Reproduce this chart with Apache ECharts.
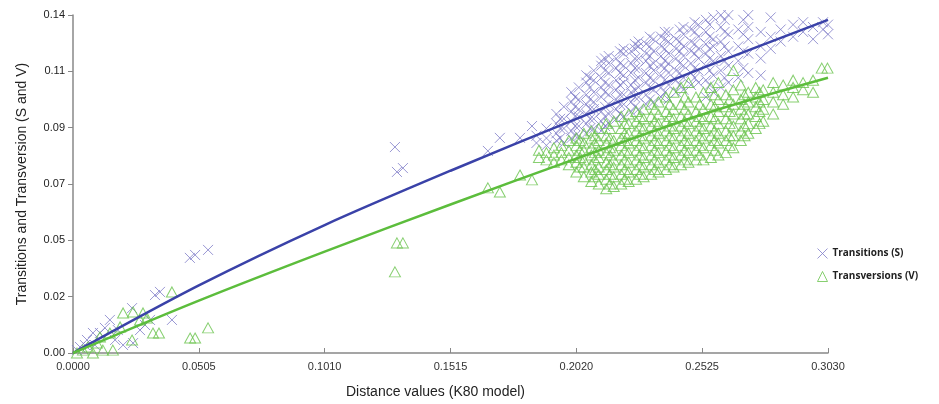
<!DOCTYPE html>
<html>
<head>
<meta charset="utf-8">
<title>Transitions and Transversions vs K80 distance</title>
<script src="https://cdn.jsdelivr.net/npm/echarts@6/dist/echarts.min.js"></script>
<style>
  html, body { margin: 0; padding: 0; background: #fff; }
  #chart { width: 939px; height: 404px; }
</style>
</head>
<body>
<div id="chart"></div>
<script>
  // tick labels as printed on the original
  const xTicks = ['0.0000', '0.0505', '0.1010', '0.1515', '0.2020', '0.2525', '0.3030'];
  const yTicks = ['0.00', '0.02', '0.05', '0.07', '0.09', '0.11', '0.14'];

  // Transitions (S): scattered points [x, y]
  const sSparse = [
    [0.0016, 0.0012], [0.0028, 0.0025], [0.0048, 0.0033], [0.0056, 0.0054], [0.008, 0.0083],
    [0.0088, 0.0033], [0.0108, 0.0083], [0.0128, 0.0104], [0.0148, 0.0137], [0.0169, 0.0054],
    [0.018, 0.0095], [0.0201, 0.0033], [0.0241, 0.0041], [0.0237, 0.0186], [0.0269, 0.0095],
    [0.0289, 0.0116], [0.0309, 0.0137], [0.0397, 0.0137], [0.0329, 0.024], [0.0349, 0.0253],
    [0.0469, 0.0394], [0.049, 0.0406], [0.0542, 0.0427],
    [0.1292, 0.0853], [0.130, 0.075], [0.1324, 0.0766],
    [0.1665, 0.0837], [0.1713, 0.0891], [0.1794, 0.0891], [0.1842, 0.094], [0.276, 0.115]
  ];
  // Transitions (S): dense cloud, one row per distance column [x, [y...]]
  const sCloud = [
    [0.186, [0.087, 0.090]],
    [0.190, [0.086, 0.089, 0.093]],
    [0.194, [0.088, 0.091, 0.095, 0.099]],
    [0.197, [0.087, 0.093, 0.097, 0.102]],
    [0.200, [0.089, 0.092, 0.096, 0.100, 0.104, 0.108]],
    [0.203, [0.090, 0.094, 0.098, 0.101, 0.105, 0.110]],
    [0.206, [0.091, 0.095, 0.099, 0.103, 0.107, 0.112, 0.115]],
    [0.209, [0.093, 0.097, 0.101, 0.104, 0.108, 0.113, 0.117]],
    [0.212, [0.092, 0.096, 0.100, 0.106, 0.110, 0.114, 0.119, 0.121]],
    [0.215, [0.095, 0.099, 0.103, 0.107, 0.111, 0.116, 0.120, 0.123]],
    [0.218, [0.097, 0.101, 0.105, 0.109, 0.113, 0.118, 0.122]],
    [0.221, [0.098, 0.103, 0.107, 0.112, 0.115, 0.119, 0.124, 0.126]],
    [0.224, [0.100, 0.104, 0.108, 0.111, 0.116, 0.120, 0.125]],
    [0.227, [0.101, 0.106, 0.110, 0.114, 0.118, 0.122, 0.127, 0.129]],
    [0.230, [0.103, 0.107, 0.112, 0.116, 0.121, 0.124, 0.128]],
    [0.233, [0.104, 0.109, 0.113, 0.117, 0.120, 0.125, 0.130]],
    [0.236, [0.106, 0.110, 0.115, 0.119, 0.123, 0.127, 0.131]],
    [0.239, [0.105, 0.111, 0.116, 0.120, 0.124, 0.129, 0.133]],
    [0.242, [0.108, 0.113, 0.117, 0.122, 0.126, 0.130]],
    [0.245, [0.109, 0.114, 0.119, 0.123, 0.127, 0.132, 0.135]],
    [0.248, [0.111, 0.116, 0.120, 0.125, 0.129, 0.134]],
    [0.251, [0.112, 0.117, 0.122, 0.126, 0.131, 0.136]],
    [0.254, [0.106, 0.113, 0.119, 0.124, 0.128, 0.133, 0.138]],
    [0.257, [0.108, 0.115, 0.121, 0.127, 0.130, 0.139]],
    [0.260, [0.110, 0.117, 0.123, 0.129, 0.135, 0.140]],
    [0.263, [0.112, 0.119, 0.125, 0.132, 0.140]],
    [0.267, [0.114, 0.121, 0.127, 0.134]],
    [0.271, [0.116, 0.124, 0.130, 0.135, 0.140]],
    [0.276, [0.122, 0.127, 0.133]],
    [0.280, [0.126, 0.131, 0.139]],
    [0.284, [0.129, 0.134]],
    [0.289, [0.131, 0.136]],
    [0.293, [0.133, 0.137]],
    [0.297, [0.130, 0.135]],
    [0.301, [0.134, 0.137]],
    [0.303, [0.132, 0.136]]
  ];
  // Transitions (S): extra points read between the columns of the dense core
  const sCore = [
    [0.1955, [0.089, 0.093, 0.097]],
    [0.2015, [0.090, 0.094, 0.098, 0.102, 0.106]],
    [0.2075, [0.093, 0.097, 0.101, 0.105, 0.110, 0.114]],
    [0.2135, [0.094, 0.098, 0.102, 0.108, 0.112, 0.117, 0.122]],
    [0.2195, [0.099, 0.103, 0.107, 0.111, 0.116, 0.120, 0.125]],
    [0.2255, [0.102, 0.106, 0.109, 0.113, 0.118, 0.122, 0.126, 0.128]],
    [0.2315, [0.105, 0.110, 0.114, 0.119, 0.123, 0.127, 0.131]],
    [0.2375, [0.108, 0.113, 0.118, 0.121, 0.126, 0.130, 0.133]],
    [0.2435, [0.111, 0.116, 0.120, 0.125, 0.129, 0.134]],
    [0.2495, [0.114, 0.118, 0.124, 0.128, 0.133, 0.137]],
    [0.2555, [0.111, 0.117, 0.122, 0.126, 0.131, 0.136]],
    [0.2615, [0.114, 0.121, 0.127, 0.133, 0.138]],
    [0.2690, [0.118, 0.125, 0.132, 0.138]]
  ];

  // Transversions (V): scattered points [x, y]
  const vSparse = [
    [0.0016, 0.0], [0.004, 0.0012], [0.006, 0.0025], [0.008, 0.0], [0.0096, 0.0041],
    [0.0108, 0.0066], [0.012, 0.0012], [0.0148, 0.0083], [0.016, 0.0012], [0.0189, 0.0108],
    [0.0201, 0.0166], [0.0237, 0.0054], [0.0241, 0.017], [0.0269, 0.0137], [0.0281, 0.0166],
    [0.0297, 0.0145], [0.0321, 0.0083], [0.0345, 0.0083], [0.0397, 0.0253],
    [0.047, 0.0062], [0.049, 0.0062], [0.0542, 0.0104],
    [0.1292, 0.0336], [0.130, 0.0456], [0.1324, 0.0456],
    [0.1665, 0.0684], [0.1713, 0.0667], [0.1794, 0.0737], [0.1842, 0.0717]
  ];
  // Transversions (V): dense cloud [x, [y...]]
  const vCloud = [
    [0.187, [0.081, 0.084]],
    [0.190, [0.080, 0.083]],
    [0.193, [0.079, 0.082, 0.085]],
    [0.196, [0.080, 0.083, 0.086]],
    [0.199, [0.078, 0.081, 0.084, 0.088]],
    [0.202, [0.075, 0.079, 0.082, 0.086, 0.089]],
    [0.205, [0.073, 0.077, 0.080, 0.084, 0.087, 0.091]],
    [0.208, [0.071, 0.075, 0.078, 0.082, 0.085, 0.089, 0.092]],
    [0.211, [0.070, 0.074, 0.077, 0.081, 0.084, 0.088, 0.093]],
    [0.214, [0.068, 0.072, 0.076, 0.079, 0.083, 0.087, 0.090, 0.095]],
    [0.217, [0.069, 0.073, 0.077, 0.080, 0.084, 0.088, 0.096]],
    [0.220, [0.070, 0.074, 0.078, 0.082, 0.086, 0.089, 0.093, 0.098]],
    [0.223, [0.071, 0.075, 0.079, 0.083, 0.087, 0.091, 0.095, 0.099]],
    [0.226, [0.072, 0.076, 0.080, 0.084, 0.088, 0.092, 0.096, 0.100]],
    [0.229, [0.073, 0.077, 0.081, 0.085, 0.089, 0.093, 0.097, 0.101]],
    [0.232, [0.074, 0.078, 0.082, 0.086, 0.090, 0.094, 0.098, 0.103]],
    [0.235, [0.075, 0.079, 0.083, 0.087, 0.091, 0.095, 0.099, 0.104]],
    [0.238, [0.076, 0.080, 0.084, 0.088, 0.092, 0.096, 0.100, 0.106]],
    [0.241, [0.077, 0.081, 0.085, 0.089, 0.093, 0.097, 0.101, 0.108]],
    [0.244, [0.078, 0.082, 0.086, 0.090, 0.094, 0.098, 0.103, 0.110]],
    [0.247, [0.079, 0.083, 0.087, 0.091, 0.095, 0.099, 0.104, 0.112]],
    [0.250, [0.080, 0.084, 0.088, 0.092, 0.096, 0.100, 0.106]],
    [0.253, [0.080, 0.085, 0.089, 0.093, 0.097, 0.101, 0.108]],
    [0.256, [0.081, 0.086, 0.090, 0.094, 0.098, 0.103, 0.110]],
    [0.259, [0.082, 0.087, 0.091, 0.095, 0.100, 0.105, 0.112]],
    [0.262, [0.083, 0.088, 0.092, 0.097, 0.102, 0.107]],
    [0.265, [0.085, 0.090, 0.094, 0.099, 0.103, 0.109, 0.117]],
    [0.268, [0.088, 0.092, 0.097, 0.101, 0.105, 0.111]],
    [0.271, [0.091, 0.095, 0.099, 0.104, 0.108]],
    [0.274, [0.093, 0.098, 0.102, 0.106, 0.110]],
    [0.277, [0.096, 0.101, 0.105, 0.109]],
    [0.281, [0.099, 0.104, 0.108, 0.112]],
    [0.285, [0.103, 0.107, 0.111]],
    [0.289, [0.106, 0.110, 0.113]],
    [0.293, [0.109, 0.112]],
    [0.297, [0.108, 0.113]],
    [0.3005, [0.118]],
    [0.3028, [0.118]]
  ];
  // Transversions (V): extra points between the columns of the dense core
  const vCore = [
    [0.2035, [0.077, 0.081, 0.084, 0.088]],
    [0.2095, [0.073, 0.076, 0.080, 0.083, 0.087, 0.090]],
    [0.2155, [0.070, 0.074, 0.078, 0.082, 0.085, 0.089, 0.093]],
    [0.2215, [0.072, 0.076, 0.080, 0.084, 0.088, 0.091, 0.095]],
    [0.2275, [0.074, 0.078, 0.082, 0.086, 0.090, 0.094, 0.098]],
    [0.2335, [0.076, 0.080, 0.084, 0.088, 0.092, 0.096, 0.101]],
    [0.2395, [0.078, 0.082, 0.086, 0.090, 0.094, 0.098, 0.103]],
    [0.2455, [0.080, 0.084, 0.088, 0.092, 0.096, 0.101, 0.106]],
    [0.2515, [0.082, 0.086, 0.090, 0.094, 0.098, 0.103]],
    [0.2575, [0.084, 0.088, 0.092, 0.097, 0.102, 0.107]],
    [0.2635, [0.086, 0.090, 0.095, 0.100, 0.105]],
    [0.2695, [0.090, 0.094, 0.099, 0.103, 0.107]],
    [0.2755, [0.095, 0.100, 0.104, 0.108]]
  ];

  // fitted curves
  const fitS = [[0, 0], [0.0505, 0.028], [0.101, 0.053], [0.1515, 0.0755], [0.202, 0.097], [0.2525, 0.118], [0.303, 0.138]];
  const fitV = [[0, 0], [0.0505, 0.0217], [0.101, 0.042], [0.1515, 0.0615], [0.202, 0.0805], [0.2525, 0.0988], [0.303, 0.114]];

  function flatten(sparse, ...clouds) {
    let out = sparse.slice();
    clouds.forEach(cloud => {
      cloud.forEach(row => {
        row[1].forEach(y => out.push([row[0], y]));
      });
    });
    return out;
  }

  const cross = 'path://M0,0L10,10M10,0L0,10';
  const sColor = '#807dc8';
  const vColor = '#69c34c';

  let myChart = echarts.init(document.getElementById('chart'));
  myChart.setOption({
    animation: false,
    grid: {left: 73, right: 111, top: 15, bottom: 51},
    legend: {
      orient: 'vertical',
      left: 812,
      top: 243,
      itemWidth: 10,
      itemHeight: 10,
      itemGap: 12,
      itemStyle: {borderWidth: 1},
      textStyle: {fontFamily: 'Open Sans', fontWeight: 'bold', fontSize: 10, color: '#222'},
      data: [
        {name: 'Transitions (S)', icon: cross},
        {name: 'Transversions (V)', icon: 'triangle'}
      ]
    },
    xAxis: {
      type: 'value',
      min: 0,
      max: 0.303,
      interval: 0.0505,
      name: 'Distance values (K80 model)',
      nameLocation: 'middle',
      nameGap: 32,
      nameTextStyle: {fontFamily: 'Liberation Sans', fontSize: 14, color: '#222', padding: [0, 30, 0, 0]},
      splitLine: {show: false},
      axisLine: {lineStyle: {color: '#888', width: 1.5}},
      axisTick: {inside: true, length: 5, lineStyle: {color: '#888'}},
      axisLabel: {
        fontFamily: 'Liberation Sans', fontSize: 11, color: '#333', margin: 8,
        formatter: (v, i) => xTicks[i]
      }
    },
    yAxis: {
      type: 'value',
      min: 0,
      max: 0.14,
      interval: 0.14 / 6,
      name: 'Transitions and Transversion (S and V)',
      nameLocation: 'middle',
      nameGap: 44,
      nameTextStyle: {fontFamily: 'Liberation Sans', fontSize: 14, color: '#222'},
      splitLine: {show: false},
      axisLine: {show: true, lineStyle: {color: '#888', width: 1.5}},
      axisTick: {show: true, length: 5, lineStyle: {color: '#888'}},
      axisLabel: {
        fontFamily: 'Liberation Sans', fontSize: 11, color: '#222', margin: 8,
        formatter: (v, i) => yTicks[i]
      }
    },
    series: [
      {
        name: 'Transitions (S)',
        type: 'scatter',
        symbol: cross,
        symbolSize: 10,
        itemStyle: {color: 'rgba(0,0,0,0)', borderColor: sColor, borderWidth: 1},
        data: flatten(sSparse, sCloud, sCore)
      },
      {
        name: 'Transversions (V)',
        type: 'scatter',
        symbol: 'triangle',
        symbolSize: [11, 10],
        itemStyle: {color: 'rgba(0,0,0,0)', borderColor: vColor, borderWidth: 1},
        data: flatten(vSparse, vCloud, vCore)
      },
      {
        name: 'fitS',
        type: 'line',
        smooth: 0.3,
        symbol: 'none',
        z: 5,
        lineStyle: {color: '#3a42a8', width: 2.5},
        data: fitS
      },
      {
        name: 'fitV',
        type: 'line',
        smooth: 0.3,
        symbol: 'none',
        z: 5,
        lineStyle: {color: '#5cbd3c', width: 2.5},
        data: fitV
      }
    ]
  });
</script>
</body>
</html>
